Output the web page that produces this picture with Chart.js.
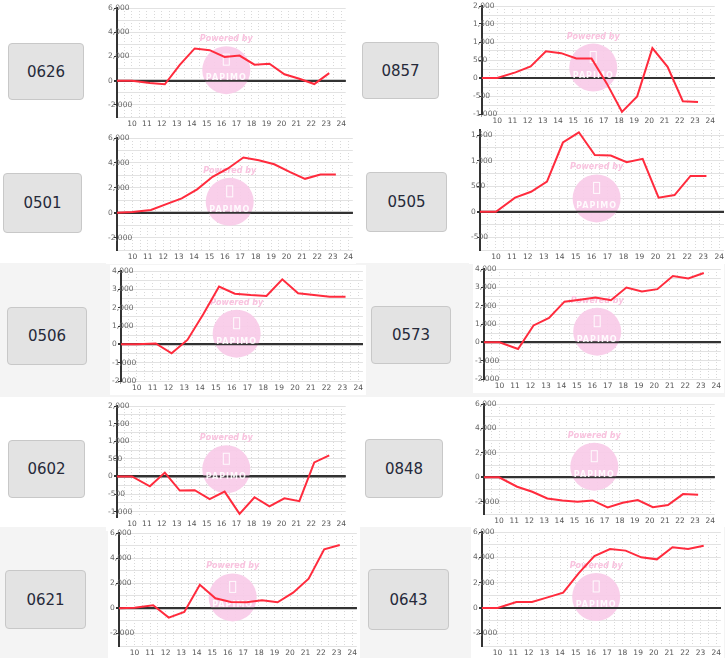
<!DOCTYPE html>
<html lang="en">
<head>
<meta charset="UTF-8">
<title>Intraday lines</title>
<script src="https://cdn.jsdelivr.net/npm/chart.js@4.4.3/dist/chart.umd.min.js"></script>
<style>
  body { margin: 0; width: 725px; height: 658px; position: relative; overflow: hidden; background: #fff; font-family: 'DejaVu Sans', sans-serif; }
  .band { position: absolute; left: 0; width: 725px; background: #f4f4f4; }
  .code { position: absolute; box-sizing: border-box; background: #e3e3e3; border: 1px solid #c8c8c8; border-radius: 4px;
          display: flex; align-items: center; justify-content: center; font-size: 15px; color: #262a3a; }
  canvas { position: absolute; background: #fff; }
</style>
</head>
<body>
<div class="band" style="top:263px;height:134px"></div>
<div class="band" style="top:527px;height:131px"></div>
<script>
// data
const codes = ['0626', '0857', '0501', '0505', '0506', '0573', '0602', '0848', '0621', '0643'];
const hours = [9, 10, 11.2, 12.2, 13.2, 14.2, 15.2, 16.2, 17.2, 18.2, 19.2, 20.2, 21.2, 22.2, 23.2];

const s0626 = [0, 0, -200, -300, 1300, 2660, 2520, 1960, 2070, 1320, 1400, 530, 160, -280, 620];
const s0857 = [0, 0, 155, 320, 740, 690, 540, 540, -150, -940, -510, 830, 310, -645, -670];
const s0501 = [0, 50, 210, 690, 1150, 1870, 2880, 3550, 4430, 4210, 3890, 3280, 2720, 3070, 3070];
const s0505 = [0, 0, 275, 390, 590, 1355, 1555, 1110, 1100, 970, 1035, 275, 325, 700, 700];
const s0506 = [0, 0, 50, -490, 240, 1640, 3150, 2760, 2690, 2640, 3545, 2780, 2690, 2600, 2600];
const s0573 = [0, 0, -360, 920, 1330, 2220, 2320, 2450, 2300, 2990, 2770, 2900, 3620, 3480, 3780];
const s0602 = [0, 0, -280, 110, -400, -390, -640, -430, -1060, -590, -850, -620, -700, 400, 600];
const s0848 = [0, 0, -770, -1180, -1730, -1890, -2000, -1890, -2470, -2080, -1860, -2440, -2270, -1370, -1420];
const s0621 = [0, 50, 240, -740, -290, 1880, 800, 500, 480, 640, 480, 1250, 2360, 4700, 5040];
const s0643 = [0, 0, 470, 470, 840, 1210, 2760, 4100, 4660, 4530, 4000, 3840, 4790, 4660, 4920];
const series = [s0626, s0857, s0501, s0505, s0506, s0573, s0602, s0848, s0621, s0643];

// y axis range and label step per chart
const yMins  = [-3000, -1000, -3000, -750, -2000, -2000, -1150, -3000, -3000, -3000];
const yMaxs  = [6000, 2000, 6000, 1600, 4000, 4000, 2000, 6000, 6000, 6000];
const ySteps = [2000, 500, 2000, 500, 1000, 1000, 500, 2000, 2000, 2000];
const xMin = 9, xMax = 24.3;

// page layout: label box [x, y, w, h] and plot area [left, top, right, bottom]
const boxes = [[8, 43, 76, 57], [362, 42, 77, 57], [3, 173, 79, 60], [366, 172, 81, 60], [7, 307, 80, 58],
               [371, 306, 80, 58], [8, 440, 77, 58], [365, 439, 78, 59], [5, 570, 81, 59], [368, 569, 81, 61]];
const plots = [[117, 8, 347, 117], [482, 6, 716, 114], [117, 138, 354, 250], [480, 130, 725, 250], [121, 271, 364, 381],
               [484, 269, 722, 379], [117, 406, 347, 517], [484, 404, 716, 514], [119, 533, 358, 646], [482, 532, 722, 646]];

const LABEL_W = 9, PAD_L = 2, PAD_T = 6, PAD_R = 2, XAXIS_H = 14;

// pink "Powered by" badge behind the line
const watermark = {
  id: 'watermark',
  beforeDatasetsDraw(chart) {
    const { ctx, chartArea: a, scales } = chart;
    const cx = a.left + 0.478 * (a.right - a.left);
    const cy = a.top + 0.57 * (a.bottom - a.top);
    ctx.save();
    ctx.fillStyle = 'rgba(249,203,232,0.92)';
    ctx.beginPath();
    ctx.arc(cx, cy, 24, 0, Math.PI * 2);
    ctx.fill();
    // keep the zero line visible on top of the badge
    const y0 = scales.y.getPixelForValue(0);
    ctx.strokeStyle = '#333';
    ctx.lineWidth = 2;
    ctx.beginPath();
    ctx.moveTo(a.left, y0);
    ctx.lineTo(a.right, y0);
    ctx.stroke();
    ctx.fillStyle = '#f9c3df';
    ctx.font = 'italic bold 8px "DejaVu Sans"';
    ctx.textAlign = 'center';
    ctx.textBaseline = 'middle';
    ctx.fillText('Powered by', cx, cy - 31);
    ctx.fillStyle = 'rgba(255,255,255,0.9)';
    ctx.font = 'bold 8px "DejaVu Sans"';
    ctx.letterSpacing = '1px';
    ctx.fillText('PAPIMO', cx, cy + 8);
    ctx.strokeStyle = 'rgba(255,255,255,0.9)';
    ctx.lineWidth = 1;
    ctx.strokeRect(cx - 3, cy - 16, 6, 11);
    ctx.restore();
  }
};

codes.forEach((code, i) => {
  const [bx, by, bw, bh] = boxes[i];
  const box = document.createElement('div');
  box.className = 'code';
  box.style.cssText = `left:${bx}px;top:${by}px;width:${bw}px;height:${bh}px`;
  box.textContent = code;
  document.body.appendChild(box);

  const [pl, pt, pr, pb] = plots[i];
  const canvas = document.createElement('canvas');
  canvas.width = LABEL_W + PAD_L + (pr - pl) + PAD_R;
  canvas.height = PAD_T + (pb - pt) + XAXIS_H;
  canvas.style.left = (pl - LABEL_W - PAD_L) + 'px';
  canvas.style.top = (pt - PAD_T) + 'px';
  document.body.appendChild(canvas);

  const vals = series[i];
  const step = ySteps[i];
  const half = step / 2;

  new Chart(canvas.getContext('2d'), {
    type: 'line',
    data: {
      datasets: [{
        data: hours.map((h, j) => ({ x: h, y: vals[j] })),
        borderColor: '#ff2b3d',
        borderWidth: 2,
        pointRadius: 0,
        tension: 0,
        fill: false
      }]
    },
    options: {
      responsive: false,
      animation: false,
      devicePixelRatio: 1,
      layout: { padding: { left: PAD_L, top: PAD_T, right: PAD_R, bottom: 0 } },
      plugins: { legend: { display: false }, tooltip: { enabled: false } },
      scales: {
        x: {
          type: 'linear',
          min: xMin,
          max: xMax,
          afterBuildTicks: (scale) => {
            const t = [];
            for (let v = 9.5; v <= 24; v += 0.5) t.push({ value: v });
            scale.ticks = t;
          },
          afterFit: (scale) => { scale.height = XAXIS_H; },
          ticks: {
            autoSkip: false,
            maxRotation: 0,
            padding: 3,
            color: '#555',
            font: { family: 'DejaVu Sans', size: 7.5 },
            callback: (v) => Number.isInteger(v) ? String(v) : ''
          },
          grid: { color: '#d9d9d9', lineWidth: 1, drawTicks: false },
          border: { display: false, dash: [1, 2] }
        },
        y: {
          min: yMins[i],
          max: yMaxs[i],
          afterBuildTicks: (scale) => {
            const t = [];
            for (let v = Math.ceil(yMins[i] / half) * half; v <= yMaxs[i]; v += half) t.push({ value: v });
            scale.ticks = t;
          },
          afterFit: (scale) => { scale.width = LABEL_W; },
          ticks: {
            autoSkip: false,
            mirror: true,
            padding: -LABEL_W,
            color: '#666',
            font: { family: 'DejaVu Sans', size: 7.5 },
            callback: (v) => v % step === 0 ? v.toLocaleString('en-US') : ''
          },
          grid: {
            tickLength: 3,
            tickColor: (c) => c.tick && c.tick.value % step === 0 ? '#333' : 'rgba(0,0,0,0)',
            color: (c) => c.tick && c.tick.value === 0 ? '#333' : '#e2e2e2',
            lineWidth: (c) => c.tick && c.tick.value === 0 ? 2 : 1
          },
          border: { color: '#333', width: 2 }
        }
      }
    },
    plugins: [watermark]
  });
});
</script>
</body>
</html>
